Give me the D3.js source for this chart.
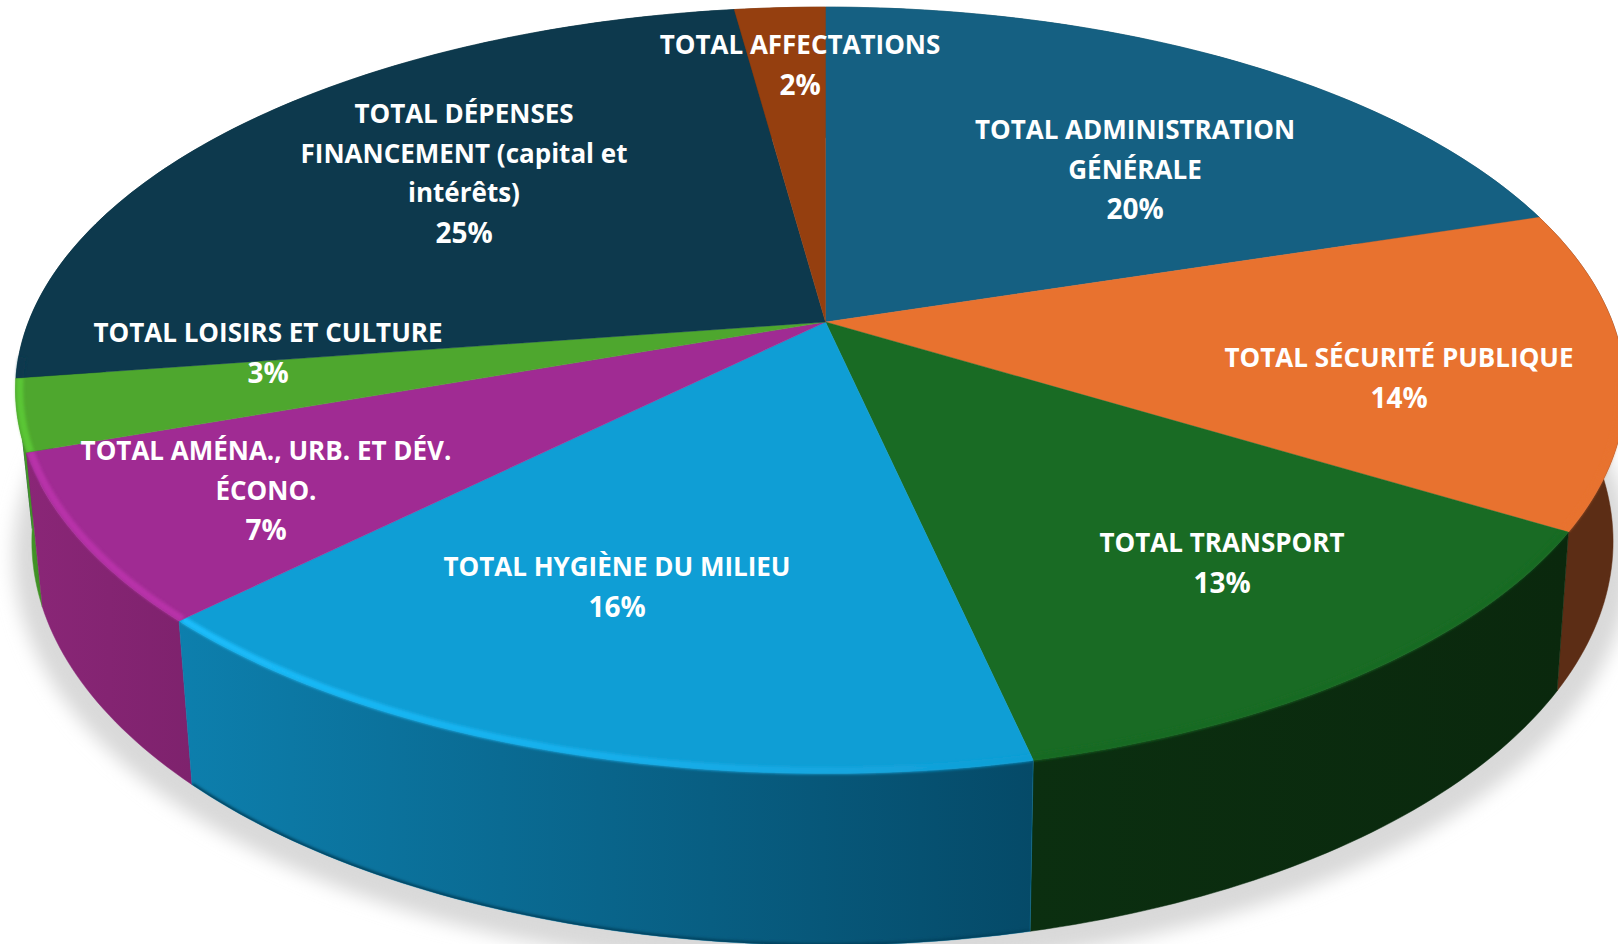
<!DOCTYPE html>
<html><head><meta charset="utf-8">
<script src="https://cdn.jsdelivr.net/npm/d3@7"></script>
<style>html,body{margin:0;padding:0;background:#fff;overflow:hidden}svg{display:block}
text{font-family:"Open Sans",sans-serif;font-weight:700;fill:#fff;font-size:26px;text-anchor:middle;dominant-baseline:central}
text.pct{font-size:28px}</style>
</head><body><svg id="c" width="1618" height="944"></svg>
<script>
// DATA
const categories = [
  ["TOTAL ADMINISTRATION","GÉNÉRALE"],
  ["TOTAL SÉCURITÉ PUBLIQUE"],
  ["TOTAL TRANSPORT"],
  ["TOTAL HYGIÈNE DU MILIEU"],
  ["TOTAL AMÉNA., URB. ET DÉV.","ÉCONO."],
  ["TOTAL LOISIRS ET CULTURE"],
  ["TOTAL DÉPENSES","FINANCEMENT (capital et","intérêts)"],
  ["TOTAL AFFECTATIONS"]
];
const values = [20.2, 13.4, 12.9, 16.05, 7.08, 3.02, 25.2, 2.15];
const percentLabels = ["20%","14%","13%","16%","7%","3%","25%","2%"];
// STYLES
const topColors  = ["#156082","#E8722F","#196B24","#0F9ED5","#A02B93","#4EA72E","#0D394D","#953F0F"];
const rimColors  = ["#156082","#E8722F","#196B24","#1ABCFA","#B832A9","#5AC634","#0D394D","#953F0F"];
const wallLeft   = ["#0e4a63","#5C2D15","#0B2F10","#0D7FAD","#8A2677","#459A28","#0B3040","#6f2f0b"];
const wallRight  = ["#0e4a63","#5C2D15","#0A280D","#054A68","#7E226D","#3F8E25","#0B3040","#6f2f0b"];
// LAYOUT
const labelCenters = [[1135,129],[1399,357],[1222,542],[617,566],[266,450],[268,332],[464,113],[800,44]];
const lineStep = 39.7;
const W = 1618, H = 944, cx = 825.5, k = 0.178;
const topPlane = {A:797, AR:787, C:322, B:371};
const basePlane = {A:781, AR:775, C:469.5, B:391};
const project = (p, a, r=1) => {
  const u = r*Math.sin(a), v = -r*Math.cos(a), w = 1 - k*v;
  return [cx + (u>0?p.AR:p.A)*u/w, p.C + p.B*v/w];
};
const pie = d3.pie().sort(null).value(d=>d)(values);
const line = d3.line();
const arcPts = (p,a0,a1,r=1)=>{
  const n = Math.max(4,Math.ceil((a1-a0)*60));
  return d3.range(n+1).map(i=>project(p,a0+(a1-a0)*i/n,r));
};
const svg = d3.select("#c");
const defs = svg.append("defs");
defs.append("filter").attr("id","sh").attr("x","-10%").attr("y","-10%").attr("width","120%").attr("height","120%")
  .append("feGaussianBlur").attr("stdDeviation",9);
defs.append("filter").attr("id","rim").attr("filterUnits","userSpaceOnUse").attr("x",0).attr("y",0).attr("width",W).attr("height",H)
  .append("feGaussianBlur").attr("stdDeviation",1.5);
// shadow
svg.append("path").attr("d",line(arcPts(basePlane,0,2*Math.PI,1.022))+"Z")
  .attr("transform","translate(0,12)").attr("fill","#d9d9d9").attr("filter","url(#sh)");
// walls back to front
const order = pie.map((d,i)=>i).sort((a,b)=>{
  const m=d=>-Math.cos((pie[d].startAngle+pie[d].endAngle)/2); return m(a)-m(b);});
order.forEach(i=>{
  const d = pie[i];
  const g = defs.append("linearGradient").attr("id","w"+i);
  g.append("stop").attr("offset",0).attr("stop-color",wallLeft[i]);
  g.append("stop").attr("offset",1).attr("stop-color",wallRight[i]);
  const pts = arcPts(topPlane,d.startAngle,d.endAngle).concat(arcPts(basePlane,d.startAngle,d.endAngle).reverse());
  const wall = line(pts)+"Z";
  svg.append("path").attr("d",wall).attr("fill",`url(#w${i})`).attr("stroke",wallLeft[i]).attr("stroke-width",0.5);
  defs.append("clipPath").attr("id","wc"+i).append("path").attr("d",wall);
  if(i===3){ // darker lower edge of the front wall
    svg.append("g").attr("clip-path",`url(#wc${i})`).append("path")
      .attr("d",line(arcPts(basePlane,d.startAngle,d.endAngle)))
      .attr("fill","none").attr("stroke","#04405c").attr("stroke-width",4).attr("filter","url(#rim)");
  }
});
// tops
const apex=[cx,topPlane.C];
pie.forEach((d,i)=>{
  const path = line([apex].concat(arcPts(topPlane,d.startAngle,d.endAngle)))+"Z";
  svg.append("path").attr("d",path).attr("fill",topColors[i]).attr("stroke",topColors[i]).attr("stroke-width",0.4);
  defs.append("clipPath").attr("id","t"+i).append("path")
    .attr("d",line([apex].concat(arcPts(topPlane,d.startAngle,d.endAngle,1.015)))+"Z");
  const g = defs.append("linearGradient").attr("id","r"+i);
  g.append("stop").attr("offset",0).attr("stop-color",rimColors[i]);
  g.append("stop").attr("offset",i===3?0.55:1).attr("stop-color",i===3?"#17aeea":rimColors[i]);
  if(i===3) g.append("stop").attr("offset",1).attr("stop-color",topColors[i]);
  // soft bevel on the near half of the rim only
  const a0=Math.max(d.startAngle,Math.PI*0.55), a1=Math.min(d.endAngle,Math.PI*1.47);
  if(a1>a0){
    svg.append("g").attr("clip-path",`url(#t${i})`).append("path")
      .attr("d",line(arcPts(topPlane,a0,a1,0.995)))
      .attr("fill","none").attr("stroke",`url(#r${i})`).attr("stroke-width",7).attr("filter","url(#rim)");
  }
});
// labels
categories.forEach((lines,i)=>{
  const [x,y]=labelCenters[i];
  const all = lines.concat(percentLabels[i]);
  svg.append("g").selectAll("text").data(all).join("text")
    .attr("class",(t,j)=>j===all.length-1?"pct":null)
    .attr("x",x).attr("y",(t,j)=>y+j*lineStep).text(t=>t);
});
</script></body></html>
